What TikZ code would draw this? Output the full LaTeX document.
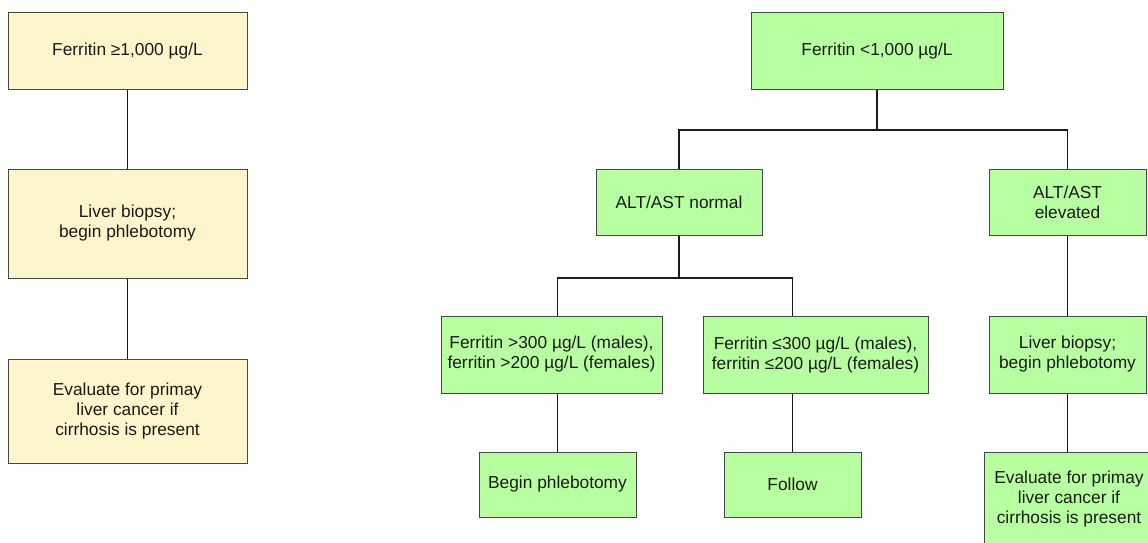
\documentclass[tikz,border=0pt]{standalone}
\usepackage{fontspec}
\setmainfont{Liberation Sans}
\definecolor{boxyel}{RGB}{255,245,204}
\definecolor{boxgrn}{RGB}{183,255,160}
\definecolor{boxedge}{RGB}{70,70,70}
\definecolor{linedark}{RGB}{26,26,26}
\begin{document}
\begin{tikzpicture}[x=0.75pt,y=0.75pt,yscale=-1,xscale=1,
  flowbox/.style={draw=boxedge,line width=0.75pt,inner sep=2pt,align=center,
    text=linedark,font=\fontsize{13}{15}\selectfont},
  yelbox/.style={flowbox,fill=boxyel},
  grnbox/.style={flowbox,fill=boxgrn},
  conn/.style={draw=linedark,line width=0.9pt}]
\useasboundingbox (0,0) rectangle (1148,542);
\clip (0,0) rectangle (1148,542);
% left column
\node [yelbox,minimum width=179.25pt,minimum height=57pt] (fhigh) at (127.5,51) {Ferritin ≥1,000 µg/L};
\node [yelbox,minimum width=179.25pt,minimum height=81.75pt] (lbiop) at (127.5,223.5) {Liver biopsy;\\begin phlebotomy};
\node [yelbox,minimum width=179.25pt,minimum height=78pt] (leval) at (127.5,411) {Evaluate for primay\\liver cancer if\\cirrhosis is present};
% right tree
\node [grnbox,minimum width=189pt,minimum height=57pt] (flow) at (877,51) {Ferritin <1,000 µg/L};
\node [grnbox,minimum width=124.5pt,minimum height=49.5pt] (altn) at (679,202) {ALT/AST normal};
\node [grnbox,minimum width=117.75pt,minimum height=49.5pt] (alte) at (1067.5,202) {ALT/AST\\elevated};
\node [grnbox,minimum width=165.75pt,minimum height=57.75pt] (fgt) at (551.5,354.5) {Ferritin >300 µg/L (males),\\ferritin >200 µg/L (females)};
\node [grnbox,minimum width=168.75pt,minimum height=57.75pt] (fle) at (815.5,355) {Ferritin ≤300 µg/L (males),\\ferritin ≤200 µg/L (females)};
\node [grnbox,minimum width=117.75pt,minimum height=57.75pt] (rbiop) at (1067.5,354.5) {Liver biopsy;\\begin phlebotomy};
\node [grnbox,minimum width=117.75pt,minimum height=48.75pt] (phleb) at (557.5,484.5) {Begin phlebotomy};
\node [grnbox,minimum width=102.75pt,minimum height=48.75pt] (follow) at (792.5,484.5) {Follow};
\node [grnbox,minimum width=127.5pt,minimum height=70.5pt] (reval) at (1069,499) {Evaluate for primay\\liver cancer if\\cirrhosis is present};
\coordinate (tbus) at (877,130);
\coordinate (nbus) at (679,278);
% connectors
\draw [conn] (fhigh.south) -- (lbiop.north);
\draw [conn] (lbiop.south) -- (leval.north);
\draw [conn] (flow.south) -- (tbus);
\draw [conn] (altn.north) |- (tbus) -| (alte.north);
\draw [conn] (altn.south) -- (nbus);
\draw [conn] (phleb.north |- fgt.north) |- (nbus) -| (follow.north |- fle.north);
\draw [conn] (phleb.north |- fgt.south) -- (phleb.north);
\draw [conn] (follow.north |- fle.south) -- (follow.north);
\draw [conn] (alte.south) -- (rbiop.north);
\draw [conn] (rbiop.south) -- (reval.north -| rbiop.south);
\end{tikzpicture}
\end{document}
